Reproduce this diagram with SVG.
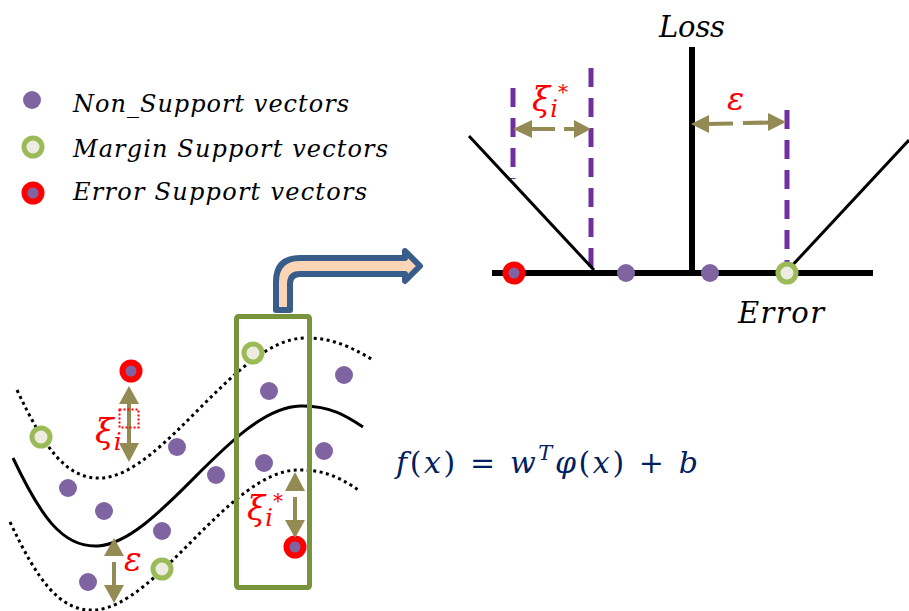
<svg xmlns="http://www.w3.org/2000/svg" width="909" height="611" viewBox="0 0 909 611">
<style>
.lbl{font-family:"DejaVu Serif","Liberation Serif",serif;font-style:italic;fill:#000}
.red{font-family:"DejaVu Serif","Liberation Serif",serif;font-style:italic;fill:#FF0000}
.up{font-style:normal}
.nsv{fill:#8064A2}
.msv{fill:#EEECE1;stroke:#9BBB59;stroke-width:5}
.esv{fill:#8064A2;stroke:#FF0000;stroke-width:6}
.axis{stroke:#000;stroke-width:6;fill:none}
.thin{stroke:#000;stroke-width:3;fill:none}
.dash{stroke:#7030A0;stroke-width:5;stroke-dasharray:19 11;fill:none}
.dot{stroke:#000;stroke-width:3;stroke-dasharray:3 3.5;fill:none}
.shaft{stroke:#948A54;stroke-width:4;fill:none}
.head{fill:#948A54}
</style>
<rect width="909" height="611" fill="#fff"/>

<g id="legend">
  <circle class="nsv" cx="32" cy="100" r="9"/>
  <circle class="msv" cx="33" cy="147" r="9"/>
  <circle class="esv" cx="33" cy="193" r="8.5"/>
  <text class="lbl" x="73" y="112" font-size="24" textLength="276">Non_Support vectors</text>
  <text class="lbl" x="73" y="157" font-size="24" textLength="315">Margin Support vectors</text>
  <text class="lbl" x="73" y="200" font-size="24" textLength="294">Error Support vectors</text>
</g>

<g id="loss-plot">
  <line class="dash" x1="513" y1="88" x2="513" y2="179"/>
  <line class="dash" x1="591" y1="68" x2="591" y2="270"/>
  <line class="dash" x1="787" y1="110" x2="787" y2="270"/>
  <line class="thin" x1="469" y1="136" x2="594" y2="270"/>
  <line class="thin" x1="788" y1="270" x2="909" y2="140"/>
  <line class="axis" x1="692" y1="47" x2="692" y2="273"/>
  <line class="axis" x1="492" y1="273" x2="873" y2="273"/>
  <circle class="esv" cx="514" cy="273" r="8.5"/>
  <circle class="nsv" cx="626" cy="273" r="9"/>
  <circle class="nsv" cx="710" cy="273" r="9"/>
  <circle class="msv" cx="787" cy="273" r="9"/>
  <text class="lbl" x="659" y="37" font-size="29" textLength="66">Loss</text>
  <text class="lbl" x="738" y="323" font-size="29" textLength="86">Error</text>
  <g id="xi-star-top">
    <line class="shaft" x1="530" y1="129" x2="555" y2="129"/>
    <polygon class="head" points="513,129 532,120 532,138"/>
    <line class="shaft" x1="564" y1="129" x2="576" y2="129"/>
    <polygon class="head" points="591,129 574,120 574,138"/>
    <text class="red" x="532" y="111" font-size="33">ξ<tspan font-size="24" dy="6">i</tspan><tspan class="up" font-size="20" dx="0" dy="-18">*</tspan></text>
  </g>
  <g id="eps-top">
    <line class="shaft" x1="706" y1="124" x2="733" y2="123.5"/>
    <polygon class="head" points="691,124 709,115 709,133"/>
    <line class="shaft" x1="743" y1="123" x2="771" y2="122.5"/>
    <polygon class="head" points="786,122 768,113 768,131"/>
    <text class="red" x="727" y="110" font-size="32">ε</text>
  </g>
</g>

<g id="regression">
  <path class="dot" d="M13,458 C40,515 62,548 98,546 C160,542 232,408 300,406 C330,405 352,418 369,428" transform="translate(4,-68)"/>
  <path class="thin" d="M13,458 C40,515 62,548 98,546 C160,542 232,408 300,406 C330,405 348,417 363,427"/>
  <path class="dot" d="M13,458 C40,515 62,548 98,546 C160,542 232,408 300,406 C330,405 348,417 363,427" transform="translate(-3,64)"/>
  <circle class="nsv" cx="177" cy="447" r="9"/>
  <circle class="nsv" cx="68" cy="488" r="9"/>
  <circle class="nsv" cx="104" cy="511" r="9"/>
  <circle class="nsv" cx="216" cy="475" r="9"/>
  <circle class="nsv" cx="162" cy="531" r="9"/>
  <circle class="nsv" cx="88" cy="582" r="9"/>
  <circle class="nsv" cx="269" cy="391" r="9"/>
  <circle class="nsv" cx="344" cy="375" r="9"/>
  <circle class="nsv" cx="264" cy="463" r="9"/>
  <circle class="nsv" cx="324" cy="451" r="9"/>
  <circle class="msv" cx="41" cy="437" r="9"/>
  <circle class="msv" cx="162" cy="569" r="9"/>
  <circle class="msv" cx="253" cy="353" r="9"/>
  <circle class="esv" cx="131" cy="371" r="8.5"/>
  <circle class="esv" cx="295" cy="547" r="8.5"/>
  <g id="xi-left">
    <line class="shaft" x1="129" y1="402" x2="129" y2="446"/>
    <polygon class="head" points="129,386 119,404 139,404"/>
    <polygon class="head" points="129,462 119,443 139,443"/>
    <rect x="119.5" y="409.5" width="19" height="18" fill="none" stroke="#FF0000" stroke-width="2" stroke-dasharray="2 2"/>
    <text class="red" x="95" y="443" font-size="34">ξ<tspan font-size="25" dy="7">i</tspan></text>
  </g>
  <g id="xi-star-box">
    <polygon class="head" points="295,472 285,491 305,491"/>
    <line class="shaft" x1="295" y1="497" x2="295" y2="523"/>
    <polygon class="head" points="295,538 285,520 305,520"/>
    <text class="red" x="247" y="520" font-size="33">ξ<tspan font-size="24" dy="6">i</tspan><tspan class="up" font-size="20" dx="0" dy="-18">*</tspan></text>
  </g>
  <g id="eps-left">
    <polygon class="head" points="114,538 104,556 124,556"/>
    <line class="shaft" x1="114" y1="562" x2="114" y2="588"/>
    <polygon class="head" points="114,603 104,585 124,585"/>
    <text class="red" x="124" y="571" font-size="33">ε</text>
  </g>
  <rect id="window" x="236.5" y="316.5" width="73" height="271" rx="2" fill="none" stroke="#77933C" stroke-width="5"/>
</g>

<g id="connectors">
  <path d="M276,310 L276,282 Q276,258 300,258 L405,258 L405,251 L420,266 L405,281 L405,274 L300,274 Q290,274 290,284 L290,310 Z" fill="#FBD5B5" stroke="#385D8A" stroke-width="6" stroke-linejoin="round"/>
</g>

<g id="formula">
  <text x="396" y="473" font-family="'DejaVu Serif','Liberation Serif',serif" font-size="30" fill="#002060" textLength="302"><tspan font-style="italic">f</tspan>(<tspan font-style="italic">x</tspan>) = <tspan font-style="italic">w</tspan><tspan font-style="italic" font-size="21" dy="-13">T</tspan><tspan font-style="italic" dy="13">φ</tspan>(<tspan font-style="italic">x</tspan>) + <tspan font-style="italic">b</tspan></text>
</g>
</svg>
